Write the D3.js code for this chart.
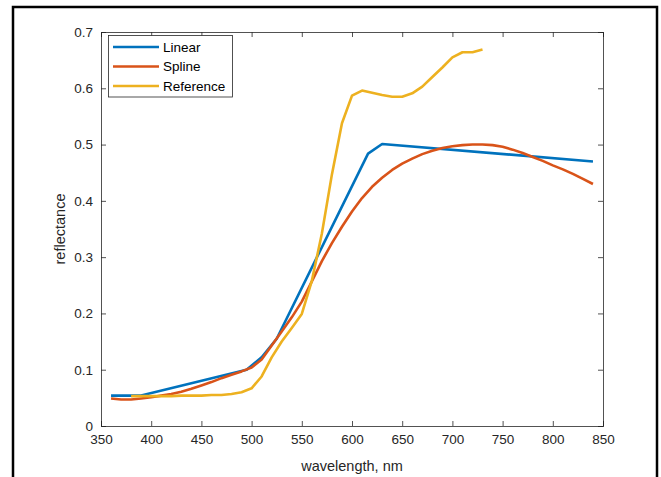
<!DOCTYPE html>
<html>
<head>
<meta charset="utf-8">
<script src="https://cdn.jsdelivr.net/npm/d3@7"></script>
<style>
  html, body { margin: 0; padding: 0; background: #fff; }
  svg { display: block; }
  text { font-family: "Liberation Sans", Arial, Helvetica, sans-serif; }
</style>
</head>
<body>
<svg id="chart" width="661" height="477"></svg>
<script>
// ---- data ----
const linearX = [360, 390, 495, 510, 525, 616, 630, 840];
const linearY = [0.054, 0.054, 0.100, 0.122, 0.155, 0.484, 0.501, 0.470];

const splineX = [360,370,380,390,400,410,420,430,440,450,460,470,480,490,500,510,520,530,540,550,560,570,580,590,600,610,620,630,640,650,660,670,680,690,700,710,720,730,740,750,760,770,780,790,800,810,820,830,840];
const splineY = [0.049,0.047,0.047,0.049,0.051,0.054,0.057,0.061,0.066,0.072,0.078,0.085,0.091,0.097,0.104,0.118,0.143,0.168,0.193,0.221,0.257,0.293,0.325,0.354,0.381,0.405,0.425,0.441,0.455,0.466,0.475,0.483,0.489,0.494,0.497,0.499,0.500,0.500,0.499,0.496,0.491,0.485,0.478,0.471,0.463,0.456,0.448,0.439,0.430];

const refX = [380,390,400,410,420,430,440,450,460,470,480,490,500,510,520,530,540,550,560,570,580,590,600,610,620,630,640,650,660,670,680,690,700,710,720,730];
const refY = [0.053,0.053,0.053,0.053,0.053,0.054,0.054,0.054,0.055,0.055,0.057,0.060,0.067,0.088,0.122,0.150,0.174,0.199,0.258,0.342,0.447,0.538,0.587,0.596,0.592,0.588,0.585,0.585,0.591,0.603,0.620,0.637,0.655,0.664,0.664,0.669];

const seriesNames = ["Linear", "Spline", "Reference"];
const seriesColors = ["#0072BD", "#D95319", "#EDB120"];

const xTicks = [350, 400, 450, 500, 550, 600, 650, 700, 750, 800, 850];
const yTicks = [0, 0.1, 0.2, 0.3, 0.4, 0.5, 0.6, 0.7];
const xLabel = "wavelength, nm";
const yLabel = "reflectance";

// ---- layout ----
const svg = d3.select("#chart");
const L = 101, R = 603, T = 32, B = 426;
const x = d3.scaleLinear().domain([350, 850]).range([L, R]);
const y = d3.scaleLinear().domain([0, 0.7]).range([B, T]);
const axisColor = "#262626";

// outer black frame
svg.append("rect").attr("x", 13).attr("y", 7).attr("width", 644).attr("height", 490)
  .attr("fill", "none").attr("stroke", "#000").attr("stroke-width", 2.5);

// plot background
svg.append("rect").attr("x", L).attr("y", T).attr("width", R - L).attr("height", B - T).attr("fill", "#fff");

const tickLen = 5;
const fmtY = d => d === 0 ? "0" : d3.format(".1f")(d);

// bottom axis
const gB = svg.append("g").attr("transform", `translate(0,${B})`)
  .call(d3.axisBottom(x).tickValues(xTicks).tickSize(-tickLen).tickPadding(8).tickFormat(d3.format("d")));
// left axis
const gL = svg.append("g").attr("transform", `translate(${L},0)`)
  .call(d3.axisLeft(y).tickValues(yTicks).tickSize(-tickLen).tickPadding(8).tickFormat(fmtY));
// top axis
const gT = svg.append("g").attr("transform", `translate(0,${T})`)
  .call(d3.axisTop(x).tickValues(xTicks).tickSize(-tickLen).tickFormat(""));
// right axis
const gR = svg.append("g").attr("transform", `translate(${R},0)`)
  .call(d3.axisRight(y).tickValues(yTicks).tickSize(-tickLen).tickFormat(""));

[gB, gL, gT, gR].forEach(g => {
  g.select(".domain").attr("stroke", axisColor).attr("stroke-width", 0.8);
  g.selectAll(".tick line").attr("stroke", axisColor).attr("stroke-width", 0.8);
  g.selectAll(".tick text").attr("fill", axisColor).attr("font-size", 13.5)
    .attr("font-family", "'Liberation Sans', Arial, sans-serif");
});

// axis labels
svg.append("text").attr("x", (L + R) / 2).attr("y", 471).attr("text-anchor", "middle")
  .attr("font-size", 14.5).attr("fill", axisColor).text(xLabel);
svg.append("text").attr("transform", `translate(65,${(T + B) / 2}) rotate(-90)`)
  .attr("text-anchor", "middle").attr("font-size", 14.5).attr("fill", axisColor).text(yLabel);

// lines
const lineGen = d3.line().x(d => x(d[0])).y(d => y(d[1]));
const allSeries = [
  d3.zip(linearX, linearY),
  d3.zip(splineX, splineY),
  d3.zip(refX, refY)
];
allSeries.forEach((data, i) => {
  svg.append("path").datum(data).attr("d", lineGen)
    .attr("fill", "none").attr("stroke", seriesColors[i]).attr("stroke-width", 2.6)
    .attr("stroke-linejoin", "round").attr("stroke-linecap", "butt");
});

// legend
const lg = svg.append("g");
lg.append("rect").attr("x", 108.5).attr("y", 35.5).attr("width", 124).attr("height", 61.5)
  .attr("fill", "#fff").attr("stroke", axisColor).attr("stroke-width", 0.8);
const rowY = [47, 66.5, 86];
seriesNames.forEach((name, i) => {
  lg.append("line").attr("x1", 113).attr("x2", 159).attr("y1", rowY[i]).attr("y2", rowY[i])
    .attr("stroke", seriesColors[i]).attr("stroke-width", 2.6);
  lg.append("text").attr("x", 163).attr("y", rowY[i]).attr("dy", "0.35em")
    .attr("font-size", 13.5).attr("fill", "#000").text(name);
});
</script>
</body>
</html>
